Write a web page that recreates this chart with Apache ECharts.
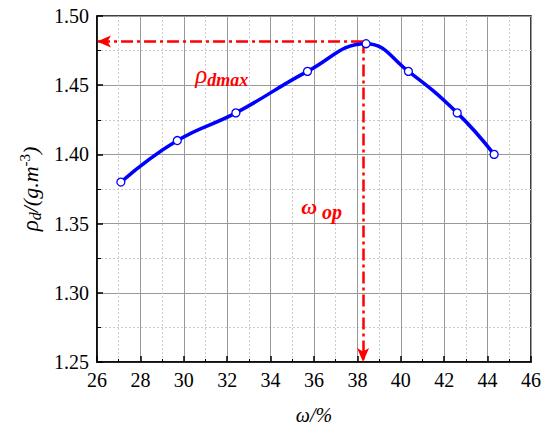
<!DOCTYPE html>
<html>
<head>
<meta charset="utf-8">
<script src="https://cdn.jsdelivr.net/npm/echarts@6/dist/echarts.min.js"></script>
<style>html,body{margin:0;padding:0;background:#fff}#c{width:544px;height:430px}</style>
</head>
<body>
<div id="c"></div>
<script>
const moisture = [27.1, 29.7, 32.4, 35.7, 38.4, 40.35, 42.6, 44.3];
const density = [1.38, 1.41, 1.43, 1.46, 1.48, 1.46, 1.43, 1.40];
const optMoisture = 38.26;
const maxDensity = 1.4815;
const xTicks = [26, 28, 30, 32, 34, 36, 38, 40, 42, 44, 46];
const yTicks = [1.25, 1.30, 1.35, 1.40, 1.45, 1.50];
const rhoLabelPos = [31.75, 1.4575];
const omegaLabelPos = [36.35, 1.362];

const FF = '"Liberation Serif", "Times New Roman", serif';
const chart = echarts.init(document.getElementById('c'), null, {renderer: 'svg'});
const points = moisture.map((x, i) => [x, density[i]]);

chart.setOption({
  animation: false,
  backgroundColor: '#fff',
  textStyle: {fontFamily: FF},
  grid: {left: 97, right: 12, top: 16, bottom: 64, show: true, borderColor: '#000', borderWidth: 1.5},
  xAxis: {
    type: 'value', min: xTicks[0], max: xTicks[xTicks.length - 1], interval: 2,
    name: 'ω/%', nameLocation: 'middle', nameGap: 43,
    nameTextStyle: {fontFamily: FF, fontSize: 20, fontStyle: 'italic', color: '#000'},
    axisLine: {lineStyle: {color: '#000', width: 1.5}},
    axisTick: {inside: true, length: 6, lineStyle: {color: '#000', width: 1.5}},
    minorTick: {show: true, splitNumber: 2, length: 3, lineStyle: {color: '#000', width: 1}},
    axisLabel: {fontFamily: FF, fontSize: 20, color: '#000', margin: 8},
    splitLine: {show: true, lineStyle: {color: '#999', width: 1}},
    minorSplitLine: {show: true, lineStyle: {color: '#ccc', type: [2, 2], width: 1}}
  },
  yAxis: {
    type: 'value', min: yTicks[0], max: yTicks[yTicks.length - 1], interval: 0.05,
    name: '{i|ρ}{sub|d}{n|/(g.m}{sup|-3}{n|)}', nameLocation: 'middle', nameGap: 50, nameRotate: 90,
    nameTextStyle: {
      fontFamily: FF, fontSize: 22, color: '#000',
      rich: {
        i: {fontFamily: FF, fontSize: 23, fontStyle: 'italic', color: '#000'},
        n: {fontFamily: FF, fontSize: 22, fontStyle: 'italic', color: '#000'},
        sub: {fontFamily: FF, fontSize: 16, fontStyle: 'italic', color: '#000', verticalAlign: 'bottom', padding: [10, 0, 0, 0]},
        sup: {fontFamily: FF, fontSize: 15, color: '#000', verticalAlign: 'top', padding: [0, 0, 10, 0]}
      }
    },
    axisLine: {lineStyle: {color: '#000', width: 1.5}},
    axisTick: {inside: true, length: 6, lineStyle: {color: '#000', width: 1.5}},
    minorTick: {show: true, splitNumber: 2, length: 4, lineStyle: {color: '#000', width: 1}},
    axisLabel: {fontFamily: FF, fontSize: 20, color: '#000', margin: 8, formatter: v => v.toFixed(2)},
    splitLine: {show: true, lineStyle: {color: '#999', width: 1}},
    minorSplitLine: {show: true, lineStyle: {color: '#ccc', type: [2, 2], width: 1}}
  },
  series: [
    {
      type: 'line', data: points, smooth: 0.45,
      symbol: 'circle', symbolSize: 8, z: 5,
      lineStyle: {color: '#0000ff', width: 3.5},
      itemStyle: {color: '#fff', borderColor: '#0000ff', borderWidth: 1.3},
      markLine: {
        silent: true, symbol: ['none', 'arrow'], symbolSize: [9, 14],
        lineStyle: {color: '#ff0000', width: 2.5, type: [12, 4, 3, 4]},
        label: {show: false},
        data: [
          [{coord: [optMoisture, maxDensity]}, {coord: [xTicks[0], maxDensity]}],
          [{coord: [optMoisture, maxDensity]}, {coord: [optMoisture, yTicks[0]]}]
        ]
      },
      markPoint: {
        silent: true, symbol: 'circle', symbolSize: 0,
        label: {show: true, position: 'inside'},
        data: [
          {coord: rhoLabelPos, label: {formatter: '{a|ρ}{b|dmax}', rich: {
            a: {fontFamily: FF, fontSize: 25, fontStyle: 'italic', color: '#ff0000'},
            b: {fontFamily: FF, fontSize: 18, fontStyle: 'italic', fontWeight: 'bold', color: '#ff0000', verticalAlign: 'bottom', padding: [10, 0, 0, 0]}
          }}},
          {coord: omegaLabelPos, label: {formatter: '{a|ω}{b| op}', rich: {
            a: {fontFamily: FF, fontSize: 22, fontStyle: 'italic', fontWeight: 'bold', color: '#ff0000'},
            b: {fontFamily: FF, fontSize: 20, fontStyle: 'italic', fontWeight: 'bold', color: '#ff0000', verticalAlign: 'bottom', padding: [10, 0, 0, 0]}
          }}}
        ]
      }
    }
  ]
});
</script>
</body>
</html>
